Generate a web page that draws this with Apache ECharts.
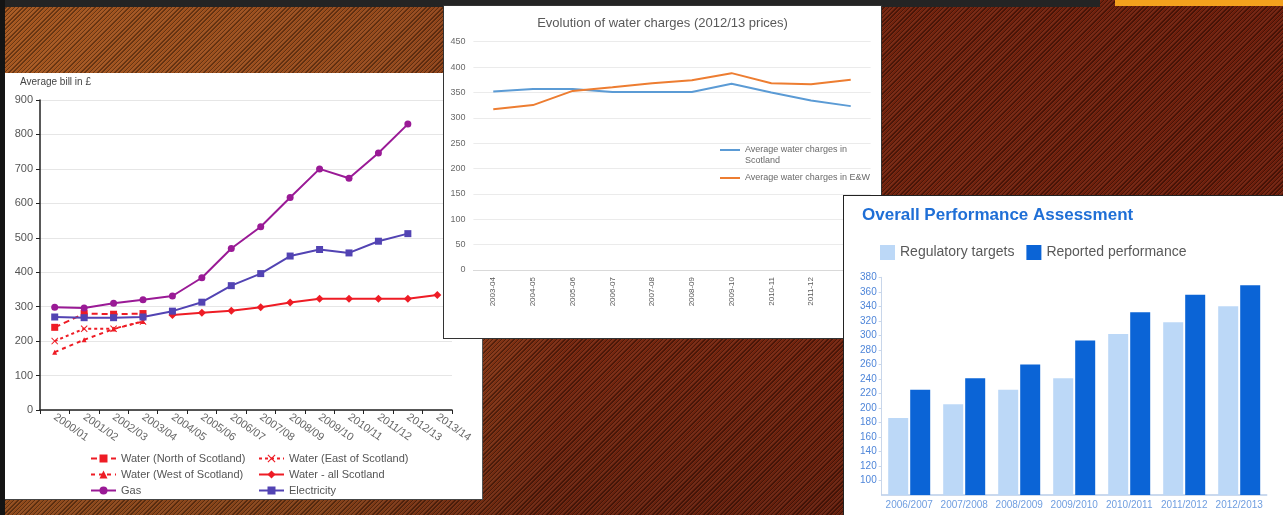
<!DOCTYPE html>
<html><head><meta charset="utf-8">
<script src="https://cdn.jsdelivr.net/npm/echarts@6/dist/echarts.min.js"></script>
<style>
html,body{margin:0;padding:0;}
body{width:1283px;height:515px;overflow:hidden;position:relative;
background:
 repeating-linear-gradient(135deg, rgba(0,0,0,0.36) 0px, rgba(0,0,0,0.36) 1px, rgba(255,255,255,0.05) 1px, rgba(255,255,255,0.05) 2px, rgba(0,0,0,0) 2px, rgba(0,0,0,0) 3px),
 linear-gradient(180deg, rgba(0,0,0,0) 70%, rgba(0,0,0,0.12) 100%),
 linear-gradient(100deg,#a5561e 0%, #94481a 30%, #76260e 46%, #6c1c0a 100%);}
.bar{position:absolute;}
.panel{position:absolute;background:#fff;box-sizing:content-box;}
</style></head>
<body>
<div class="bar" style="left:0;top:0;width:1100px;height:7px;background:#242424"></div>
<div class="bar" style="left:1115px;top:0;width:168px;height:6px;background:#f4a11d"></div>
<div class="bar" style="left:0;top:0;width:5px;height:515px;background:#141414"></div>
<div id="c1" class="panel" style="left:5px;top:73px;width:477px;height:426px;border-right:1px solid #555;border-bottom:1px solid #444"></div>
<div id="c2" class="panel" style="left:443px;top:5px;width:437px;height:332px;border:1px solid #333"></div>
<div id="c3" class="panel" style="left:843px;top:195px;width:439px;height:319px;border-left:1px solid #222;border-top:1px solid #222"></div>
<script>
// ---- Chart 1: Average bill in £ ----
const billYears = ['2000/01','2001/02','2002/03','2003/04','2004/05','2005/06','2006/07','2007/08','2008/09','2009/10','2010/11','2011/12','2012/13','2013/14'];
const waterNorth = [240,280,278,280,null,null,null,null,null,null,null,null,null,null];
const waterEast = [200,236,236,257,null,null,null,null,null,null,null,null,null,null];
const waterWest = [168,204,235,257,null,null,null,null,null,null,null,null,null,null];
const waterAll = [null,null,null,null,276,282,288,298,312,323,323,323,323,334];
const gas = [298,296,310,320,331,384,469,532,617,700,673,746,830,null];
const electricity = [270,268,268,270,287,313,361,396,447,466,456,490,512,null];
const billTicks = {min:0,max:900,step:100};

// ---- Chart 2: Evolution of water charges ----
const waterYears = ['2003-04','2004-05','2005-06','2006-07','2007-08','2008-09','2009-10','2010-11','2011-12','2012-13'];
const scotland = [352,357,357,351,351,351,367,350,334,323];
const englandWales = [317,325,353,360,368,374,388,368,366,375];
const chargeTicks = {min:0,max:450,step:50};

// ---- Chart 3: Overall Performance Assessment ----
const perfYears = ['2006/2007','2007/2008','2008/2009','2009/2010','2010/2011','2011/2012','2012/2013'];
const targets = [186,205,225,241,302,318,340];
const reported = [225,241,260,293,332,356,369];
const perfTicks = {min:80,max:380,step:20};

const FONT = 'Liberation Sans';
const RED = '#ee1c25';
const XSYM = 'path://M0,1L1,0L5,4L9,0L10,1L6,5L10,9L9,10L5,6L1,10L0,9L4,5Z';

const c1 = echarts.init(document.getElementById('c1'), null, {renderer:'canvas'});
c1.setOption({
  animation:false,
  textStyle:{fontFamily:FONT},
  title:{text:'Average bill in £', left:15, top:4, padding:0, textStyle:{fontSize:10, fontWeight:'normal', color:'#444'}},
  grid:{left:35, right:30, top:27, bottom:89, outerBoundsMode:'none'},
  legend:[
    {orient:'vertical', left:85, top:380, padding:0, itemGap:5, itemWidth:25, itemHeight:10,
     textStyle:{fontSize:11, color:'#555'},
     data:['Water (North of Scotland)','Water (West of Scotland)','Gas']},
    {orient:'vertical', left:253, top:380, padding:0, itemGap:5, itemWidth:25, itemHeight:10,
     textStyle:{fontSize:11, color:'#555'},
     data:['Water (East of Scotland)','Water - all Scotland','Electricity']}
  ],
  xAxis:{type:'category', data:billYears, boundaryGap:true,
    axisLine:{lineStyle:{color:'#222', width:1.5}},
    axisTick:{show:true, length:4, lineStyle:{color:'#222'}},
    axisLabel:{rotate:-35, fontSize:11, color:'#666', margin:6, interval:0},
    splitLine:{show:false}},
  yAxis:{type:'value', min:billTicks.min, max:billTicks.max, interval:billTicks.step,
    axisLine:{show:true, lineStyle:{color:'#222', width:1.5}},
    axisTick:{show:true, length:4, lineStyle:{color:'#222'}},
    axisLabel:{fontSize:11, color:'#555', margin:7},
    splitLine:{show:true, lineStyle:{color:'#e6e6e6'}}},
  series:[
    {name:'Water (North of Scotland)', type:'line', data:waterNorth, symbol:'rect', symbolSize:7,
     lineStyle:{type:[6,4], width:2, color:RED}, itemStyle:{color:RED}, z:3},
    {name:'Water (East of Scotland)', type:'line', data:waterEast, symbol:XSYM, symbolSize:7,
     lineStyle:{type:[3,3], width:2, color:RED}, itemStyle:{color:RED}, z:3},
    {name:'Water (West of Scotland)', type:'line', data:waterWest, symbol:'triangle', symbolSize:5,
     lineStyle:{type:[4,4], width:2, color:RED}, itemStyle:{color:RED}, z:3},
    {name:'Water - all Scotland', type:'line', data:waterAll, symbol:'diamond', symbolSize:8,
     lineStyle:{width:2, color:RED}, itemStyle:{color:RED}, z:3},
    {name:'Gas', type:'line', data:gas, symbol:'circle', symbolSize:7,
     lineStyle:{width:2, color:'#9a1a96'}, itemStyle:{color:'#9a1a96'}},
    {name:'Electricity', type:'line', data:electricity, symbol:'rect', symbolSize:7,
     lineStyle:{width:2, color:'#5243b3'}, itemStyle:{color:'#5243b3'}}
  ]
});

const c2 = echarts.init(document.getElementById('c2'), null, {renderer:'canvas'});
c2.setOption({
  animation:false,
  textStyle:{fontFamily:FONT},
  title:{text:'Evolution of water charges (2012/13 prices)', left:'center', top:11, padding:0,
    textStyle:{fontSize:13, fontWeight:'normal', color:'#595959'}},
  grid:{left:29.4, right:10.4, top:35.7, bottom:68, outerBoundsMode:'none'},
  legend:[
    {left:276, top:127.5, padding:0, icon:'rect', itemWidth:20, itemHeight:2,
     data:['Average water charges in Scotland'],
     formatter:function(){return ' \nAverage water charges in\nScotland';},
     textStyle:{fontSize:9, color:'#6a6a6a', lineHeight:11}},
    {left:276, top:166.5, padding:0, icon:'rect', itemWidth:20, itemHeight:2,
     data:['Average water charges in E&W'],
     textStyle:{fontSize:9, color:'#6a6a6a', lineHeight:11}}
  ],
  xAxis:{type:'category', data:waterYears, boundaryGap:true,
    axisLine:{lineStyle:{color:'#d9d9d9'}}, axisTick:{show:false},
    axisLabel:{rotate:90, fontSize:8, color:'#595959', margin:7, interval:0}},
  yAxis:{type:'value', min:chargeTicks.min, max:chargeTicks.max, interval:chargeTicks.step,
    axisLine:{show:false}, axisTick:{show:false},
    axisLabel:{fontSize:9, color:'#6a6a6a', margin:8},
    splitLine:{show:true, lineStyle:{color:'#ebebeb'}}},
  series:[
    {name:'Average water charges in Scotland', type:'line', data:scotland, symbol:'none',
     lineStyle:{width:2, color:'#5b9bd5'}, itemStyle:{color:'#5b9bd5'}},
    {name:'Average water charges in E&W', type:'line', data:englandWales, symbol:'none',
     lineStyle:{width:2, color:'#ed7d31'}, itemStyle:{color:'#ed7d31'}}
  ]
});

const c3 = echarts.init(document.getElementById('c3'), null, {renderer:'canvas'});
c3.setOption({
  animation:false,
  textStyle:{fontFamily:FONT},
  title:{text:'Overall Performance Assessment', left:18, top:11, padding:0,
    textStyle:{fontSize:17, fontWeight:'bold', color:'#1f6fd6'}},
  legend:{left:36, top:49, padding:0, icon:'rect', itemWidth:15, itemHeight:15, itemGap:12,
    textStyle:{fontSize:14, color:'#595959'},
    data:['Regulatory targets','Reported performance']},
  grid:{left:37.7, right:16.3, top:81.3, bottom:20, outerBoundsMode:'none'},
  xAxis:{type:'category', data:perfYears,
    axisLine:{lineStyle:{color:'#b9cde9', width:1.5}}, axisTick:{show:false},
    axisLabel:{fontSize:10, color:'#6f9ee0', margin:5, interval:0}},
  yAxis:{type:'value', min:perfTicks.min, max:perfTicks.max, interval:perfTicks.step,
    axisLine:{show:true, lineStyle:{color:'#c8d6ea'}},
    axisTick:{show:true, length:3, lineStyle:{color:'#c8d6ea'}},
    axisLabel:{showMinLabel:false, fontSize:10, color:'#4f86d9', margin:5},
    splitLine:{show:false}},
  series:[
    {name:'Regulatory targets', type:'bar', data:targets, barWidth:20, barGap:'10%',
     itemStyle:{color:'#bcd8f7'}},
    {name:'Reported performance', type:'bar', data:reported, barWidth:20, barGap:'10%',
     itemStyle:{color:'#0b64d6'}}
  ]
});
</script>
</body></html>
